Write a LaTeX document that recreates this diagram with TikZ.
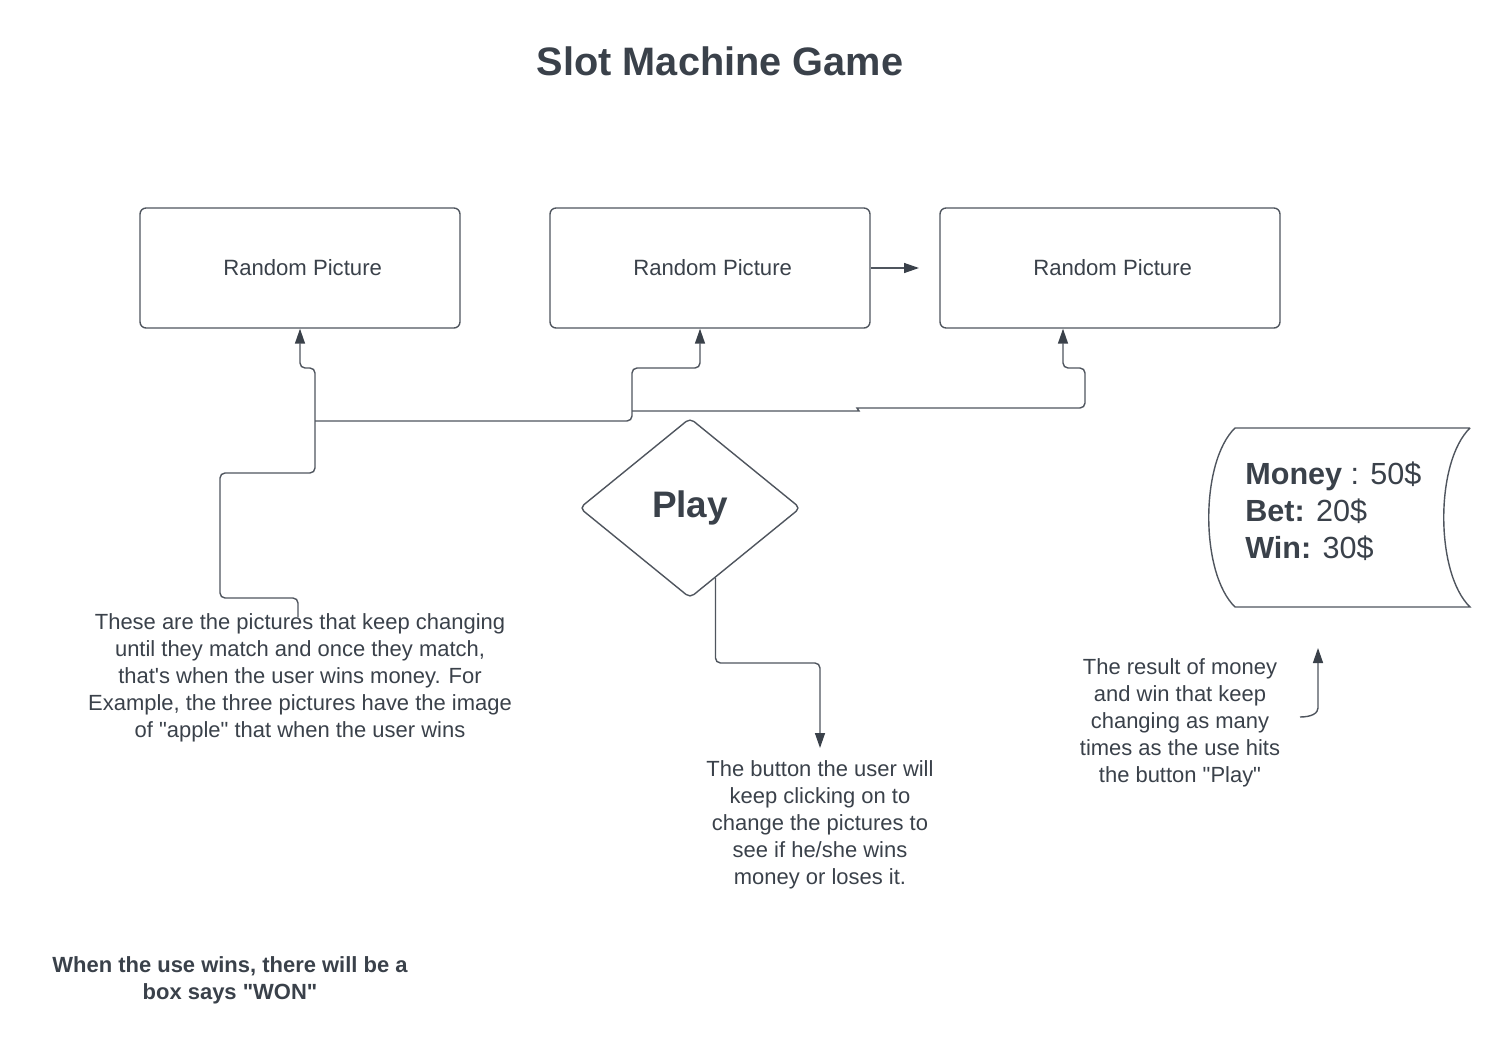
\documentclass[tikz,border=0pt]{standalone}
\usepackage{fontspec}
\setmainfont{Liberation Sans}[Ligatures=TeXOff]
\usetikzlibrary{shapes.geometric, arrows.meta, positioning}
\definecolor{ink}{HTML}{3A414A}
\definecolor{wirecol}{HTML}{4F555E}
\tikzset{
  picbox/.style={draw=wirecol, line width=0.8pt, rounded corners=0.12cm, minimum width=6.4cm, minimum height=2.4cm, text=ink, font=\fontsize{12.6}{15}\selectfont},
  link/.style={draw=wirecol, line width=0.8pt, rounded corners=0.1cm, -{Triangle[length=0.3cm,width=0.2cm,color=ink]}},
  note/.style={text=ink, align=center, inner sep=0pt, font=\fontsize{12.5}{15.3}\selectfont}
}
\begin{document}
\begin{tikzpicture}[x=0.02cm, y=-0.02cm]
\useasboundingbox (0,0) rectangle (1509,1045);
\node[text=ink, font=\bfseries\fontsize{22.6}{27}\selectfont] (title) at (720,61) {Slot Machine Game};
\node[picbox] (pic1) at (300,268) {\hspace{3pt}Random Picture};
\node[picbox] (pic2) at (710,268) {\hspace{3pt}Random Picture};
\node[picbox, minimum width=6.8cm] (pic3) at (1110,268) {\hspace{3pt}Random Picture};
\node[draw=wirecol, line width=0.8pt, shape=diamond, rounded corners=0.1cm, minimum width=4.42cm, minimum height=3.6cm, inner sep=0pt, text=ink, font=\bfseries\fontsize{21}{25}\selectfont] (play) at (690,508) {Play};
\coordinate (st-nw) at (1235,428); \coordinate (st-ne) at (1470,428);
\coordinate (st-sw) at (1235,607); \coordinate (st-se) at (1470,607);
\draw[wirecol, line width=0.8pt] (st-ne) -- (st-nw) .. controls (1200,462) and (1200,573) .. (st-sw) -- (st-se) .. controls (1435,573) and (1435,462) .. (st-ne);
\node[anchor=west, align=left, inner sep=0pt, text=ink, font=\fontsize{17.4}{21}\selectfont] (tally) at (1245,511) {\textbf{Money} : 50\$\\\textbf{Bet:} 20\$\\\textbf{Win:} 30\$};
\node[note] (picsnote) at (300,678) {These are the pictures that keep changing\\until they match and once they match,\\that's when the user wins money. For\\Example, the three pictures have the image\\of "apple" that when the user wins};
\node[note] (btnnote) at (820,825) {The button the user will\\keep clicking on to\\change the pictures to\\see if he/she wins\\money or loses it.};
\node[note] (resnote) at (1180,723) {The result of money\\and win that keep\\changing as many\\times as the use hits\\the button "Play"};
\node[note, font=\bfseries\fontsize{12.5}{15.3}\selectfont] (wonnote) at (230,980) {When the use wins, there will be a\\box says "WON"};
\coordinate (picsnote-tail) at (298,617);
\coordinate (pic3-gap) at (919,268);
\coordinate (btn-gap) at (820,748);
\coordinate (resnote-tail) at (1300,717);
\coordinate (tally-gap) at (1318,648);
\draw[link] (picsnote-tail) -- (298,598) -- (220,598) -- (220,473) -- (315,473) -- (315,368) -- (300,368) -- (pic1.south);
\draw[link] (315,421) -- (632,421) -- (632,368) -- (700,368) -- (700,0 |- pic2.south);
\draw[link] (632,411) -- (854,411) .. controls (858,411) and (858,408) .. (862,408) -- (1085,408) -- (1085,368) -- (1063,368) -- (1063,0 |- pic3.south);
\draw[link] (pic2.east) -- (pic3-gap);
\draw[link] (play.-70) -- (play.-70 |- 0,663) -- (820,663) -- (btn-gap);
\draw[link] (resnote-tail) .. controls (1312,717) and (1318,713) .. (1318,703) -- (tally-gap);
\end{tikzpicture}
\end{document}
